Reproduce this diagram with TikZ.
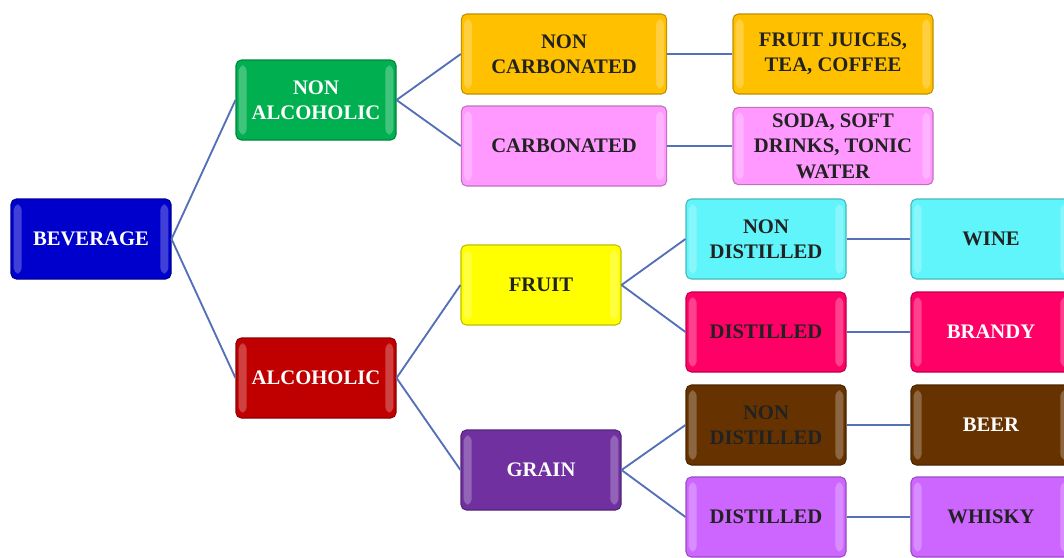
\documentclass[tikz,border=0pt]{standalone}
\usepackage{fontspec}
\setmainfont{Liberation Serif}
\usepackage{tikz}
\usetikzlibrary{positioning}
\definecolor{linkblue}{HTML}{5470B8}
\definecolor{bevblue}{HTML}{0000CC}
\definecolor{nagreen}{HTML}{00B050}
\definecolor{alcred}{HTML}{C00000}
\definecolor{gold}{HTML}{FFC000}
\definecolor{pinkish}{HTML}{FF99FF}
\definecolor{fruity}{HTML}{FFFF00}
\definecolor{grainpurple}{HTML}{7030A0}
\definecolor{cyanish}{HTML}{5FF5FA}
\definecolor{crimson}{HTML}{FF0066}
\definecolor{brownish}{HTML}{663300}
\definecolor{violet}{HTML}{CC66FF}
\definecolor{darktext}{HTML}{222222}

\begin{document}
\begin{tikzpicture}[
    x=0.75pt, y=-0.75pt,
    font=\fontsize{15.5}{19}\selectfont\bfseries,
    box/.style={rounded corners=4pt, minimum width=120pt, minimum height=60pt,
        align=center, inner sep=2pt, text=darktext, line width=0.8pt,
        path picture={
            \fill[white, opacity=.25] ([shift={(2pt,4pt)}]path picture bounding box.south west)
                rectangle ([shift={(8pt,-4pt)}]path picture bounding box.north west);
            \fill[white, opacity=.25] ([shift={(-8pt,4pt)}]path picture bounding box.south east)
                rectangle ([shift={(-2pt,-4pt)}]path picture bounding box.north east);
        }},
    wide/.style={box, minimum width=154pt},
    light/.style={text=white},
    paint/.style={fill=#1, draw=#1!75!black},
    link/.style={draw=linkblue, line width=1.4pt}
]
\clip (0,0) rectangle (1064,557);
\useasboundingbox (0,0) rectangle (1064,557);

% Root
\node[box, paint=bevblue, light] (bev) at (91,239) {BEVERAGE};

% First level
\node[box, paint=nagreen, light] (nonalc) at (316,100) {NON\\ALCOHOLIC};
\node[box, paint=alcred, light] (alc) at (316,378) {ALCOHOLIC};

% Non alcoholic branch
\node[wide, paint=gold] (noncarb) at (564,54) {NON\\CARBONATED};
\node[wide, paint=pinkish] (carb) at (564,146) {CARBONATED};
\node[box, paint=gold, minimum width=150pt] (juice) at (833,54) {FRUIT JUICES,\\TEA, COFFEE};
\node[box, paint=pinkish, minimum width=150pt, minimum height=58pt] (soda) at (833,146) {SODA, SOFT\\DRINKS, TONIC\\WATER};

% Alcoholic branch
\node[box, paint=fruity] (fruit) at (541,285) {FRUIT};
\node[box, paint=grainpurple, light] (grain) at (541,470) {GRAIN};

\node[box, paint=cyanish] (fnd) at (766,239) {NON\\DISTILLED};
\node[box, paint=crimson] (fd) at (766,332) {DISTILLED};
\node[box, paint=brownish] (gnd) at (766,425) {NON\\DISTILLED};
\node[box, paint=violet] (gd) at (766,517) {DISTILLED};

\node[box, paint=cyanish] (wine) at (991,239) {WINE};
\node[box, paint=crimson, light] (brandy) at (991,332) {BRANDY};
\node[box, paint=brownish, light] (beer) at (991,425) {BEER};
\node[box, paint=violet] (whisky) at (991,517) {WHISKY};

% Links
\draw[link] (bev.east) -- (nonalc.west);
\draw[link] (bev.east) -- (alc.west);
\draw[link] (nonalc.east) -- (noncarb.west);
\draw[link] (nonalc.east) -- (carb.west);
\draw[link] (noncarb.east) -- (juice.west);
\draw[link] (carb.east) -- (soda.west);
\draw[link] (alc.east) -- (fruit.west);
\draw[link] (alc.east) -- (grain.west);
\draw[link] (fruit.east) -- (fnd.west);
\draw[link] (fruit.east) -- (fd.west);
\draw[link] (grain.east) -- (gnd.west);
\draw[link] (grain.east) -- (gd.west);
\draw[link] (fnd.east) -- (wine.west);
\draw[link] (fd.east) -- (brandy.west);
\draw[link] (gnd.east) -- (beer.west);
\draw[link] (gd.east) -- (whisky.west);

\end{tikzpicture}
\end{document}
